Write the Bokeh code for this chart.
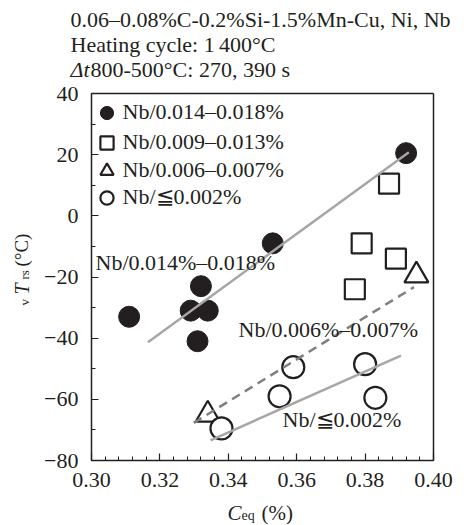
import math
from bokeh.plotting import figure
from bokeh.models import (Range1d, FixedTicker, NumeralTickFormatter, Label,
                          Legend, LegendItem, LinearAxis)
from bokeh.embed import file_html
from bokeh.resources import INLINE

# ---- data ----
high_x = [0.311, 0.332, 0.329, 0.334, 0.331, 0.353, 0.392]
high_y = [-33.0, -23.0, -31.0, -31.0, -41.0, -9.0, 20.5]
mid_x = [0.387, 0.379, 0.389, 0.377]
mid_y = [10.5, -9.0, -14.0, -24.0]
low_x = [0.395, 0.334]
low_y = [-19.5, -65.0]
none_x = [0.338, 0.355, 0.359, 0.380, 0.383]
none_y = [-69.5, -59.0, -49.5, -48.5, -59.5]

fit_high_x = [0.3165, 0.3928]
fit_high_y = [-41.3, 20.8]
fit_low_x = [0.3299, 0.3943]
fit_low_y = [-67.7, -23.3]
fit_none_x = [0.3348, 0.3905]
fit_none_y = [-73.4, -45.7]

x_ticks = [0.30, 0.32, 0.34, 0.36, 0.38, 0.40]
x_minor = [round(0.30 + 0.004 * i, 3) for i in range(26)]
y_ticks = [-80, -60, -40, -20, 0, 20, 40]
y_minor = list(range(-80, 41, 10))

legend_labels = ["Nb/0.014\u20130.018%", "Nb/0.009\u20130.013%",
                 "Nb/0.006\u20130.007%", "Nb/\u22660.002%"]

# ---- layout: data box in canvas pixels ----
W, H = 464, 525
BOX_L, BOX_R, BOX_T, BOX_B = 91, 433, 93, 460
X0, X1, Y0, Y1 = 0.30, 0.40, -80, 40

def dx(px):
    return X0 + (px - BOX_L) * (X1 - X0) / (BOX_R - BOX_L)

def dy(py):
    return Y1 - (py - BOX_T) * (Y1 - Y0) / (BOX_B - BOX_T)

INK = "#231f20"
FONT = "Liberation Serif"
SHIFT = 6  # empirical baseline correction for Label text

p = figure(width=W, height=H, output_backend="svg", toolbar_location=None,
           x_range=Range1d(dx(0), dx(W)), y_range=Range1d(dy(H), dy(0)),
           min_border=0, min_border_left=0, min_border_right=0,
           min_border_top=0, min_border_bottom=0,
           background_fill_color="white", border_fill_color="white")
p.title.visible = False
p.grid.visible = False
p.outline_line_color = None

def style_axis(ax):
    ax.axis_line_color = INK
    ax.axis_line_width = 1.5
    ax.major_tick_line_color = INK
    ax.minor_tick_line_color = INK
    ax.major_tick_line_width = 1.2
    ax.minor_tick_line_width = 1.0
    ax.major_tick_in = 7
    ax.major_tick_out = 0
    ax.minor_tick_in = 4
    ax.minor_tick_out = 0
    ax.major_label_text_font = FONT
    ax.major_label_text_font_size = "22px"
    ax.major_label_text_color = INK
    ax.axis_label = None

xa = p.xaxis[0]
ya = p.yaxis[0]
style_axis(xa)
style_axis(ya)
xa.fixed_location = Y0
xa.bounds = (X0, X1)
xa.ticker = FixedTicker(ticks=x_ticks, minor_ticks=x_minor)
xa.formatter = NumeralTickFormatter(format="0.00")
xa.major_label_standoff = 12
ya.fixed_location = X0
ya.bounds = (Y0, Y1)
ya.ticker = FixedTicker(ticks=y_ticks, minor_ticks=y_minor)
ya.major_label_overrides = {v: ("\u2212" + str(-v) if v < 0 else str(v)) for v in y_ticks}
ya.major_label_standoff = 13

# closing edges of the box (top and right), no ticks
for place, loc, bnds in (("above", Y1, (X0, X1)), ("right", X1, (Y0, Y1))):
    ax = LinearAxis(fixed_location=loc, bounds=bnds, ticker=FixedTicker(ticks=[]),
                    axis_line_color=INK, axis_line_width=1.5,
                    major_tick_line_color=None, minor_tick_line_color=None,
                    major_label_text_font_size="0px")
    p.add_layout(ax, place)

# ---- markers ----
r_high = p.scatter(high_x, high_y, marker="circle", size=21, fill_color=INK,
                   line_color=INK, line_width=1)
r_mid = p.scatter(mid_x, mid_y, marker="square", size=20, fill_color="white",
                  line_color=INK, line_width=2.2)
r_low = p.scatter(low_x, low_y, marker="triangle", size=24, fill_color="white",
                  line_color=INK, line_width=2.2)
r_none = p.scatter(none_x, none_y, marker="circle", size=22, fill_color="white",
                   line_color=INK, line_width=2.2)

# ---- fitted lines ----
p.line(fit_high_x, fit_high_y, line_color="#a6a6a6", line_width=2.5)
p.line(fit_low_x, fit_low_y, line_color="#7f7f7f", line_width=2.5, line_dash="9 6")
p.line(fit_none_x, fit_none_y, line_color="#a6a6a6", line_width=2.5)

# ---- legend: one single-entry legend per row ----
GW, GH = 33, 33
row_centers = [112, 142, 170, 197]
for lab, rend, cy in zip(legend_labels, [r_high, r_mid, r_low, r_none], row_centers):
    lg = Legend(items=[LegendItem(label=lab, renderers=[rend])],
                location=(106 - GW / 2, H - (cy + GH / 2)),
                glyph_width=GW, glyph_height=GH, padding=0, margin=0,
                label_standoff=-2, label_height=GH,
                label_text_font=FONT, label_text_font_size="22px",
                label_text_color=INK, background_fill_alpha=0,
                border_line_alpha=0)
    p.add_layout(lg)

# ---- texts ----
def txt(text, px, py, size="22px", style="normal", rotated=False):
    if rotated:
        px, angle = px - SHIFT, math.pi / 2
    else:
        py, angle = py - SHIFT, 0.0
    p.add_layout(Label(x=dx(px), y=dy(py), text=text, text_font=FONT,
                       text_font_size=size, text_font_style=style,
                       text_color=INK, text_baseline="alphabetic",
                       text_align="left", angle=angle))

txt("Nb/0.014%\u20130.018%", 95, 268)
txt("Nb/0.006%\u20130.007%", 238, 335)
txt("Nb/\u22660.002%", 282, 425)

# header lines
txt("0.06\u20130.08%C-0.2%Si-1.5%Mn-Cu, Ni, Nb", 70, 25)
txt("Heating cycle: 1\u2009400\u00b0C", 70, 50)
txt("\u0394t", 70, 75, style="italic")
txt("800-500\u00b0C: 270, 390 s", 90, 75)

# x axis title: C_eq (%)
txt("C", 227, 518, size="21px", style="italic")
txt("eq", 241, 521, size="14px")
txt("(%)", 261, 518, size="21px")

# y axis title: vT_rs (°C), rotated
txt("v", 30, 305, size="13px", rotated=True)
txt("T", 27, 294, size="20px", style="italic", rotated=True)
txt("rs", 30, 279, size="13px", rotated=True)
txt("(\u00b0C)", 27, 266, size="19px", rotated=True)

open("out.html", "w").write(file_html(p, INLINE))
